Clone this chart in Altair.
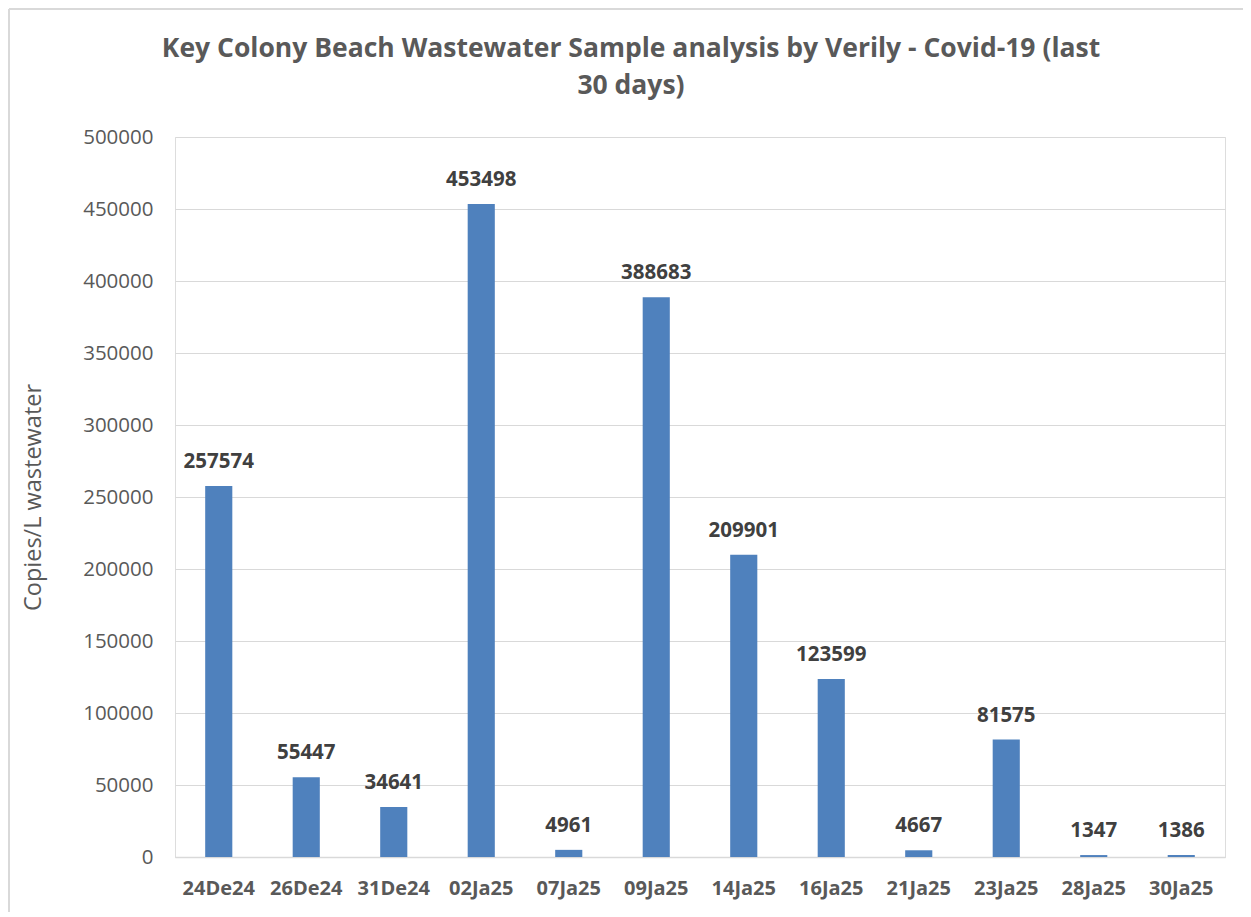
import altair as alt
import pandas as pd

dates = ["24De24", "26De24", "31De24", "02Ja25", "07Ja25", "09Ja25",
         "14Ja25", "16Ja25", "21Ja25", "23Ja25", "28Ja25", "30Ja25"]
values = [257574, 55447, 34641, 453498, 4961, 388683,
          209901, 123599, 4667, 81575, 1347, 1386]

df = pd.DataFrame({"date": dates, "value": values})

grey = "#595959"
font = "Open Sans"

base = alt.Chart(df).encode(
    x=alt.X("date:N", sort=dates, title=None,
            scale=alt.Scale(paddingInner=0.69, paddingOuter=0.345),
            axis=alt.Axis(labelAngle=0, labelFont=font, labelFontSize=20,
                          labelFontWeight="bold", labelColor=grey,
                          labelPadding=21, ticks=False, domainColor="#d9d9d9",
                          domainWidth=1.5)),
    y=alt.Y("value:Q", title="Copies/L wastewater",
            scale=alt.Scale(domain=[0, 500000], nice=False),
            axis=alt.Axis(values=list(range(0, 500001, 50000)), format="d",
                          labelFont=font, labelFontSize=20.5, labelColor=grey,
                          labelPadding=22, ticks=False, domain=False,
                          gridColor="#d9d9d9", gridWidth=1,
                          titleFont=font, titleFontSize=23.5, titleFontWeight="normal",
                          titleColor=grey, titlePadding=37)),
)

bars = base.mark_bar(color="#4F81BD")
labels = base.mark_text(dy=-24, font=font, fontSize=20.5, fontWeight="bold",
                        color="#404040", baseline="middle").encode(text="value:Q")

one = pd.DataFrame({"a": [0]})
border_top = alt.Chart(one).mark_rule(color="#d9d9d9", strokeWidth=2).encode(
    x=alt.value(-166), x2=alt.value(1068), y=alt.value(-128))
border_left = alt.Chart(one).mark_rule(color="#d9d9d9", strokeWidth=2).encode(
    x=alt.value(-166), y=alt.value(-128), y2=alt.value(775))

chart = (border_top + border_left + bars + labels).properties(
    width=1050, height=720,
    padding={"left": 167, "top": 129, "right": 18, "bottom": 55},
    autosize=alt.AutoSizeParams(type="none"),
    title=alt.TitleParams(
        ["Key Colony Beach Wastewater Sample analysis by Verily - Covid-19 (last",
         "30 days)"],
        font=font, fontSize=26.5, fontWeight="bold", color=grey,
        anchor="middle", dx=-69, offset=-91, lineHeight=37),
).configure_view(stroke=None).configure(background="white")

chart.save("out.html", embed_options={"renderer": "svg", "actions": False})
